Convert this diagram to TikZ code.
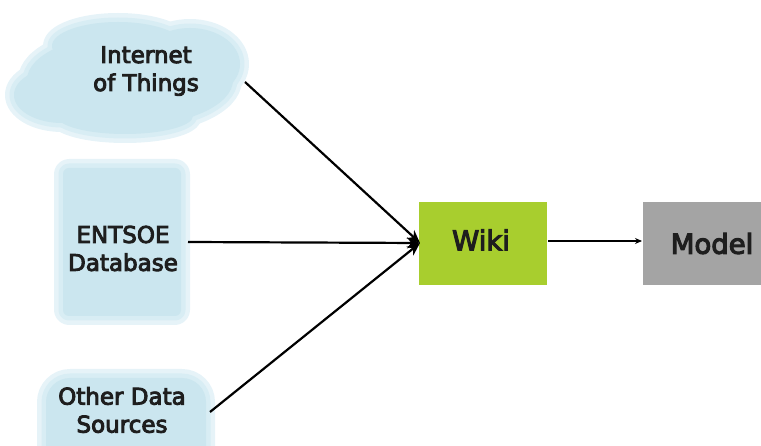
\documentclass[tikz,border=0pt]{standalone}
\usepackage{fontspec}
\setmainfont{DejaVu Sans}
\newfontfamily\semibold{DejaVu Sans}[FakeBold=4]
\usetikzlibrary{arrows.meta}
\definecolor{blobA}{HTML}{E6F3F8}
\definecolor{blobB}{HTML}{D8EDF4}
\definecolor{blobC}{HTML}{CBE6EF}
\definecolor{wikigreen}{HTML}{A8CE2E}
\definecolor{modelgray}{HTML}{A4A4A4}
\definecolor{txt}{HTML}{1E1E1E}
\tikzset{
  srctext/.style={align=center, text=txt, font=\semibold\fontsize{23}{28}\selectfont, inner sep=0pt},
  boxtext/.style={text=txt, font=\semibold\fontsize{27.5}{33}\selectfont, inner sep=0pt},
  feed/.style={line width=2.2pt, -{Stealth[length=13pt,width=11pt]}},
  pass/.style={line width=1.6pt, -{Stealth[length=7pt,width=6pt]}},
}
\begin{document}
\begin{tikzpicture}[x=1pt,y=-1pt]
\useasboundingbox (0,0) rectangle (761,446);
% soft blobs: three passes (outer halo, mid halo, core)
\foreach \col/\lw in {blobA/18pt, blobB/9pt, blobC/0pt}{
  \ifdim\lw>0pt
    \tikzset{blobpass/.style={draw=\col, fill=\col, line width=\lw, line join=round}}
  \else
    \tikzset{blobpass/.style={fill=\col}}
  \fi
  % Internet of Things cloud
  \path[blobpass] (130,80) ellipse [x radius=103, y radius=46];
  \path[blobpass] (62,95) ellipse [x radius=48, y radius=28];
  \path[blobpass] (190,64) ellipse [x radius=50, y radius=36];
  \path[blobpass] (118,46) ellipse [x radius=66, y radius=24];
  \path[blobpass] (125,116) ellipse [x radius=68, y radius=18];
  % ENTSOE database
  \path[blobpass, rounded corners=6pt] (63,168) rectangle (181,316);
  % Other data sources
  \path[blobpass, rounded corners=24pt] (46,378) rectangle (206,470);
}
% text nodes
\node[srctext] (iot) at (146,71) {Internet\\of Things};
\node[srctext] (entsoe) at (123,248.5) {ENTSOE\\Database};
\node[srctext] (other) at (122,410) {Other Data\\Sources};
% target boxes
\node[boxtext, fill=wikigreen, minimum width=128pt, minimum height=83pt] (wiki) at (482.5,243.5) {};
\node[boxtext] at (481,240) {Wiki};
\node[boxtext, fill=modelgray, minimum width=140pt, minimum height=83pt] (model) at (713,243.5) {};
\node[boxtext] at (712,243.5) {Model};
% connector end points
\coordinate (iotout) at (245,82);
\coordinate (entout) at (188,242);
\coordinate (othout) at (210,412);
\coordinate (wikiin) at (420,243);
\coordinate (wikiout) at (548,241);
\coordinate (modelin) at (642,241);
\draw[feed] (iotout) -- (wikiin);
\draw[feed] (entout) -- (wikiin);
\draw[feed] (othout) -- (wikiin);
\draw[pass] (wikiout) -- (modelin);
\end{tikzpicture}
\end{document}
